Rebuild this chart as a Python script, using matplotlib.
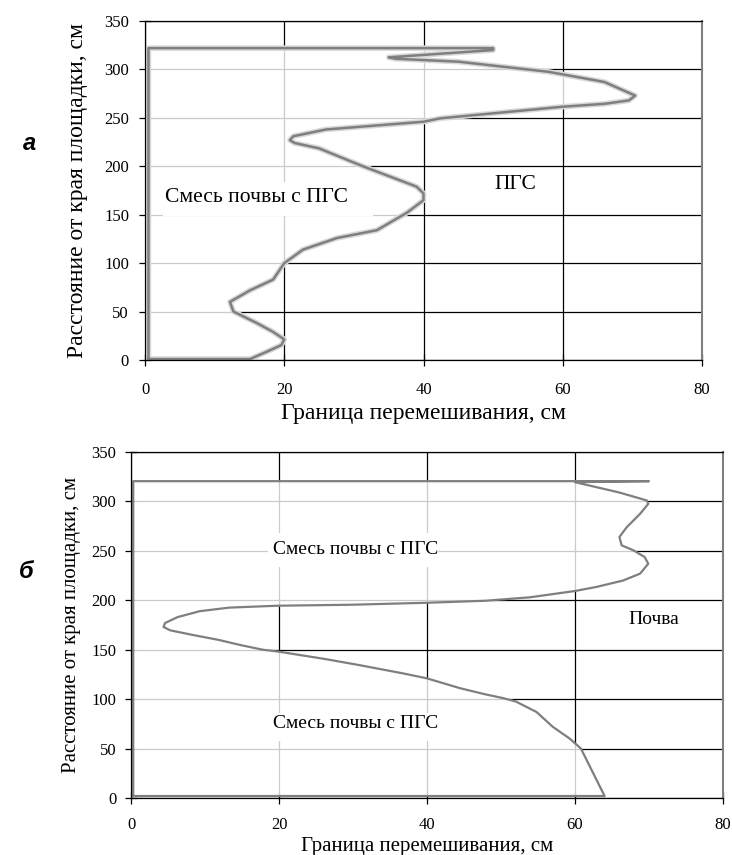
import matplotlib
matplotlib.use("Agg")
import matplotlib.pyplot as plt
import matplotlib.patheffects as pe
from matplotlib.patches import Rectangle

plt.rcParams['font.family'] = ['Liberation Serif', 'DejaVu Serif']

# граница перемешивания (а) - контур смеси почвы с ПГС
a_x = [0.5, 0.5, 50, 50, 35, 36, 45, 58, 66, 70.4, 69.5, 66, 60, 42.4, 40,
       26, 21.3, 20.8, 21.5, 25, 31.3, 39, 40, 40, 37.6, 33.3, 27.6, 22.7,
       20, 18.4, 15.1, 12.2, 12.7, 16.1, 18.4, 20, 19.6, 17.5, 15.1, 0.5]
a_y = [1, 322, 322, 320, 312.5, 311, 308, 297.5, 287, 273, 268, 264.5,
       261.5, 249.5, 246, 238, 231, 227, 224, 218.5, 200, 179, 172, 165,
       152, 134, 126, 114, 100, 83, 72, 60, 50, 38, 29, 21.3, 15.5, 8.6, 1, 1]

# граница перемешивания (б)
b_x = [0.3, 0.3, 70, 60, 62, 66, 69.7, 69.9, 68.8, 67, 66, 66.3, 67.9, 69.4,
       69.9, 68.8, 66.5, 62.9, 60, 53.9, 47.8, 40, 29.8, 19.8, 13.3, 9.3, 6.3,
       4.6, 4.4, 5.3, 8.3, 11.8, 14.8, 17.8, 20, 26.3, 30.8, 36.8, 40, 44.5,
       47.8, 50.3, 52, 54.8, 57, 59.3, 60.8, 64, 0.3]
b_y = [2, 320.5, 320.5, 319.5, 316, 309, 301, 297.6, 287.5, 274, 264, 255.6,
       250.5, 243.8, 237, 227, 220, 213.5, 209.4, 203, 199.5, 197.5, 195.5,
       194.5, 192.6, 189, 183, 177, 173, 169.6, 165, 160, 154.7, 150, 148,
       140.5, 134.5, 126, 121, 111, 105, 101, 97.6, 87, 72, 60, 50, 2, 2]

x_ticks = [0, 20, 40, 60, 80]
y_ticks = [0, 50, 100, 150, 200, 250, 300, 350]

xlabel = 'Граница перемешивания, см'
ylabel = 'Расстояние от края площадки, см'
mix = 'Смесь почвы с ПГС'

fig = plt.figure(figsize=(7.32, 8.55), dpi=100)
ax1 = fig.add_axes([145 / 732, 1 - 360 / 855, 557 / 732, 339 / 855])
ax2 = fig.add_axes([131 / 732, 1 - 798 / 855, 592 / 732, 346 / 855])


def setup(ax, tick_size, label_size, xpad, ypad, ylab_x, xlab_y):
    ax.set_xlim(0, 80)
    ax.set_ylim(0, 350)
    ax.set_xticks(x_ticks)
    ax.set_yticks(y_ticks)
    ax.set_axisbelow(True)
    ax.grid(True, color='black', linewidth=0.9)
    ax.tick_params(direction='inout', length=9, width=0.9,
                   labelsize=tick_size)
    ax.tick_params(axis='x', pad=xpad)
    ax.tick_params(axis='y', pad=ypad)
    for s in ['left', 'bottom', 'top']:
        ax.spines[s].set_linewidth(0.9)
    ax.spines['right'].set_color('#808080')
    ax.spines['right'].set_linewidth(1.5)
    ax.set_xlabel(xlabel, fontsize=label_size, va='center')
    ax.set_ylabel(ylabel, fontsize=label_size, va='center')
    ax.xaxis.set_label_coords(0.5, xlab_y)
    ax.yaxis.set_label_coords(ylab_x, 0.5)


def boxed(ax, x0, y0, x1, y1, tx, ty, text, size, ha='left'):
    ax.add_patch(Rectangle((x0, y0), x1 - x0, y1 - y0, facecolor='white',
                           edgecolor='none', zorder=1.2))
    ax.text(tx, ty, text, fontsize=size, ha=ha, va='center', zorder=3)


setup(ax1, 12, 17, 11, 7, (78 - 145) / 557, (360 - 413) / 339)
ax1.fill(a_x, a_y, color='white', alpha=0.8, zorder=1, linewidth=0)
ax1.plot(a_x, a_y, color='#7f7f7f', linewidth=1.8, zorder=2,
         path_effects=[pe.Stroke(linewidth=4, foreground='#d9d9d9'),
                       pe.Normal()])
boxed(ax1, 2.6, 149, 32.8, 184, 2.9, 168, mix, 15.5)
ax1.text(53.2, 181, 'ПГС', fontsize=15.5, ha='center', va='center', zorder=3)

setup(ax2, 12, 15, 9, 6, (72 - 131) / 592, (798 - 846) / 346)
ax2.fill(b_x, b_y, color='white', alpha=0.8, zorder=1, linewidth=0)
ax2.plot(b_x, b_y, color='#7f7f7f', linewidth=1.6, zorder=2)
boxed(ax2, 18.5, 234, 41.5, 268, 30.3, 251, mix, 14, ha='center')
boxed(ax2, 18.5, 58, 41.5, 86, 30.3, 75, mix, 14, ha='center')
ax2.text(70.7, 181, 'Почва', fontsize=14, ha='center', va='center', zorder=3)

fig.text(29 / 732, 1 - 143 / 855, 'а', fontsize=17, fontweight='bold',
         fontstyle='italic', family='Liberation Sans', ha='center',
         va='center')
fig.text(26 / 732, 1 - 571 / 855, 'б', fontsize=17, fontweight='bold',
         fontstyle='italic', family='Liberation Sans', ha='center',
         va='center')

fig.savefig('out.png', dpi=100)
